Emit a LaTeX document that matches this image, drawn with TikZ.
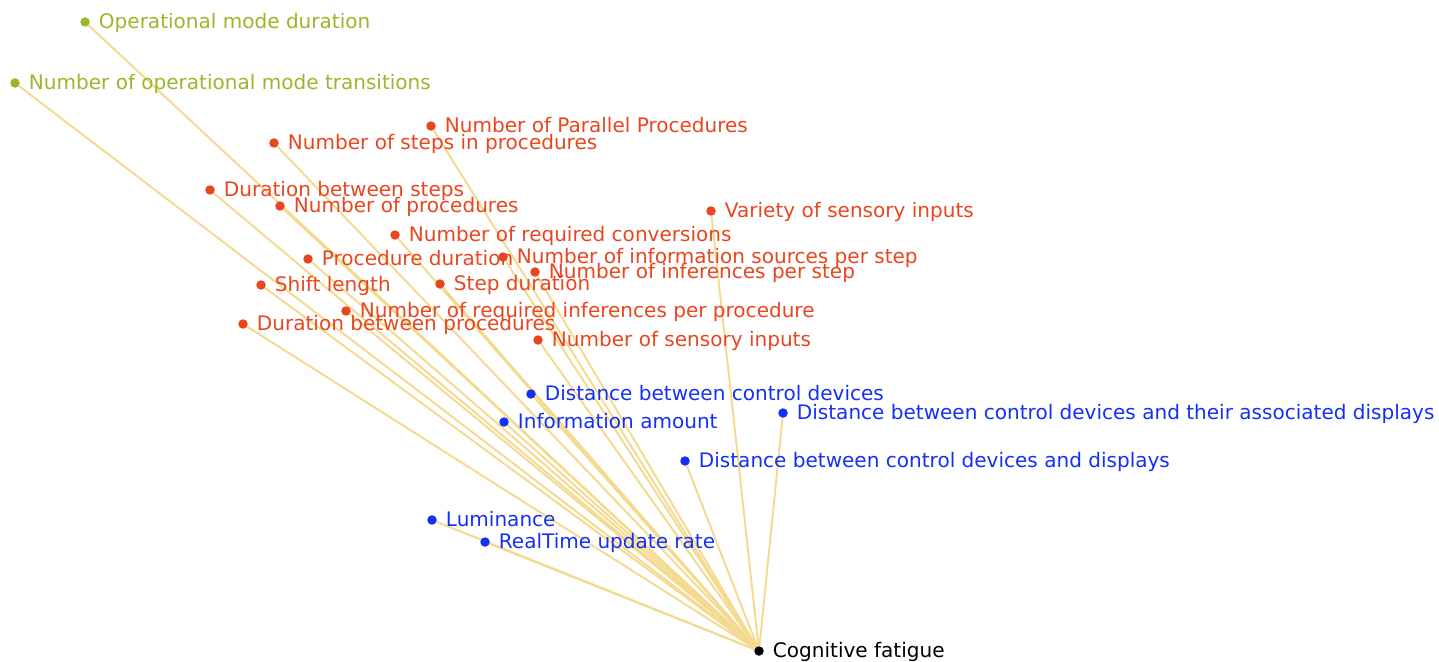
\documentclass[tikz,border=0pt]{standalone}
\usepackage{fontspec}
\setmainfont{DejaVu Sans}
\usepackage{tikz}
\usetikzlibrary{positioning}
\usetikzlibrary{backgrounds}
\definecolor{opgreen}{HTML}{9CB52C}
\definecolor{procred}{HTML}{E8461F}
\definecolor{ergoblue}{HTML}{1431F2}
\definecolor{linkgold}{HTML}{F4DA8E}
\tikzset{
	dot/.style = {circle, fill, inner sep=0pt, minimum size=0.19cm},
	lab/.style = {anchor=west, inner sep=0pt, text height=0.73em, text depth=0pt,
		font=\fontsize{11.4}{13}\selectfont},
	link/.style = {draw=linkgold, line width=1.1pt}
}

\begin{document}
\begin{tikzpicture}[x=0.02cm, y=-0.02cm, node distance=0.17cm]
	\useasboundingbox (0,0) rectangle (1439,662);
	% Operational mode
	\node[dot, opgreen] (omd) at (85, 22) {};
	\node[lab, opgreen, right=of omd] (omd-t) {Operational mode duration};
	\node[dot, opgreen] (nomt) at (15, 83) {};
	\node[lab, opgreen, right=of nomt] (nomt-t) {Number of operational mode transitions};
	
	% Procedures
	\node[dot, procred] (npp) at (431, 126) {};
	\node[lab, procred, right=of npp] (npp-t) {Number of Parallel Procedures};
	\node[dot, procred] (nsp) at (274, 143) {};
	\node[lab, procred, right=of nsp] (nsp-t) {Number of steps in procedures};
	\node[dot, procred] (dbs) at (210, 190) {};
	\node[lab, procred, right=of dbs] (dbs-t) {Duration between steps};
	\node[dot, procred] (np) at (280, 206) {};
	\node[lab, procred, right=of np] (np-t) {Number of procedures};
	\node[dot, procred] (vsi) at (711, 211) {};
	\node[lab, procred, right=of vsi] (vsi-t) {Variety of sensory inputs};
	\node[dot, procred] (nrc) at (395, 235) {};
	\node[lab, procred, right=of nrc] (nrc-t) {Number of required conversions};
	\node[dot, procred] (pd) at (308, 259) {};
	\node[lab, procred, right=of pd] (pd-t) {Procedure duration};
	\node[dot, procred] (nis) at (503, 257) {};
	\node[lab, procred, right=of nis] (nis-t) {Number of information sources per step};
	\node[dot, procred] (nip) at (535, 272) {};
	\node[lab, procred, right=of nip] (nip-t) {Number of inferences per step};
	\node[dot, procred] (sl) at (261, 285) {};
	\node[lab, procred, right=of sl] (sl-t) {Shift length};
	\node[dot, procred] (sd) at (440, 284) {};
	\node[lab, procred, right=of sd] (sd-t) {Step duration};
	\node[dot, procred] (nrip) at (346, 311) {};
	\node[lab, procred, right=of nrip] (nrip-t) {Number of required inferences per procedure};
	\node[dot, procred] (dbp) at (243, 324) {};
	\node[lab, procred, right=of dbp] (dbp-t) {Duration between procedures};
	\node[dot, procred] (nsi) at (538, 340) {};
	\node[lab, procred, right=of nsi] (nsi-t) {Number of sensory inputs};
	
	% Ergonomics
	\node[dot, ergoblue] (dcd) at (531, 394) {};
	\node[lab, ergoblue, right=of dcd] (dcd-t) {Distance between control devices};
	\node[dot, ergoblue] (ia) at (504, 422) {};
	\node[lab, ergoblue, right=of ia] (ia-t) {Information amount};
	\node[dot, ergoblue] (dcad) at (783, 413) {};
	\node[lab, ergoblue, right=of dcad] (dcad-t) {Distance between control devices and their associated displays};
	\node[dot, ergoblue] (dcdd) at (685, 461) {};
	\node[lab, ergoblue, right=of dcdd] (dcdd-t) {Distance between control devices and displays};
	\node[dot, ergoblue] (lum) at (432, 520) {};
	\node[lab, ergoblue, right=of lum] (lum-t) {Luminance};
	\node[dot, ergoblue] (rtu) at (485, 542) {};
	\node[lab, ergoblue, right=of rtu] (rtu-t) {RealTime update rate};
	
	% Target
	\node[dot, black] (cf) at (759, 651) {};
	\node[lab, black, right=of cf] (cf-t) {Cognitive fatigue};
	
	\begin{scope}[on background layer]
		\path[link] (omd) -- (cf);
		\path[link] (nomt) -- (cf);
		\path[link] (npp) -- (cf);
		\path[link] (nsp) -- (cf);
		\path[link] (dbs) -- (cf);
		\path[link] (np) -- (cf);
		\path[link] (vsi) -- (cf);
		\path[link] (nrc) -- (cf);
		\path[link] (pd) -- (cf);
		\path[link] (nis) -- (cf);
		\path[link] (nip) -- (cf);
		\path[link] (sl) -- (cf);
		\path[link] (sd) -- (cf);
		\path[link] (nrip) -- (cf);
		\path[link] (dbp) -- (cf);
		\path[link] (nsi) -- (cf);
		\path[link] (dcd) -- (cf);
		\path[link] (ia) -- (cf);
		\path[link] (dcad) -- (cf);
		\path[link] (dcdd) -- (cf);
		\path[link] (lum) -- (cf);
		\path[link] (rtu) -- (cf);
	\end{scope}
\end{tikzpicture}
\end{document}
